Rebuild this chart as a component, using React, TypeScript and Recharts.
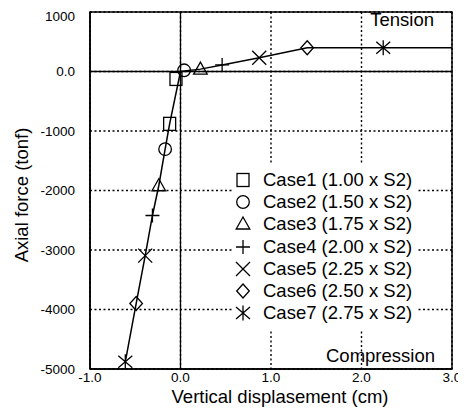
import React from 'react';
import {
  ScatterChart,
  Scatter,
  XAxis,
  YAxis,
  CartesianGrid,
  ReferenceLine,
  ReferenceArea,
  Legend,
} from 'recharts';

const caseLabels = [
  'Case1 (1.00 x S2)',
  'Case2 (1.50 x S2)',
  'Case3 (1.75 x S2)',
  'Case4 (2.00 x S2)',
  'Case5 (2.25 x S2)',
  'Case6 (2.50 x S2)',
  'Case7 (2.75 x S2)',
];
const caseSymbols = ['square', 'circle', 'triangle', 'plus', 'cross', 'diamond', 'asterisk'];

// tension-side results (cm, tonf)
const tensionDisp = [-0.05, 0.04, 0.22, 0.46, 0.87, 1.4, 2.24];
const tensionForce = [-125, 20, 40, 110, 230, 400, 400];
// compression-side results (cm, tonf)
const compressionDisp = [-0.12, -0.17, -0.24, -0.31, -0.39, -0.49, -0.61];
const compressionForce = [-880, -1305, -1920, -2420, -3095, -3900, -4880];

// connecting curve
const curveDisp = [-0.61, -0.49, -0.39, -0.31, -0.24, -0.17, -0.12, 0.0, 0.22, 0.46, 0.87, 1.4, 2.24, 3.0];
const curveForce = [-4880, -3900, -3095, -2420, -1920, -1305, -880, 0, 40, 110, 230, 400, 400, 400];

const xTicks = [-1, 0, 1, 2, 3];
const yTicks = [-5000, -4000, -3000, -2000, -1000, 0, 1000];

const FONT = '"Liberation Sans", Arial, Helvetica, sans-serif';

const curveData = curveDisp.map((x, i) => ({ x, y: curveForce[i] }));
const caseData = caseSymbols.map((_, i) => [
  { x: tensionDisp[i], y: tensionForce[i] },
  { x: compressionDisp[i], y: compressionForce[i] },
]);

function Marker({ kind, cx, cy }: { kind: string; cx: number; cy: number }) {
  const s = { fill: 'none', stroke: '#000', strokeWidth: 1.3 };
  switch (kind) {
    case 'square':
      return <rect x={cx - 6} y={cy - 6.5} width={12} height={13} {...s} />;
    case 'circle':
      return <circle cx={cx} cy={cy} r={6.3} {...s} />;
    case 'triangle':
      return (
        <polygon
          points={`${cx},${cy - 7} ${cx - 6.8},${cy + 5} ${cx + 6.8},${cy + 5}`}
          {...s}
        />
      );
    case 'plus':
      return (
        <path d={`M${cx - 7},${cy}H${cx + 7}M${cx},${cy - 7}V${cy + 7}`} {...s} />
      );
    case 'cross':
      return (
        <path
          d={`M${cx - 7},${cy - 7}L${cx + 7},${cy + 7}M${cx - 7},${cy + 7}L${cx + 7},${cy - 7}`}
          {...s}
        />
      );
    case 'diamond':
      return (
        <polygon
          points={`${cx},${cy - 7} ${cx + 6.3},${cy} ${cx},${cy + 7} ${cx - 6.3},${cy}`}
          {...s}
        />
      );
    case 'asterisk':
      return (
        <path
          d={`M${cx - 7},${cy - 6}L${cx + 7},${cy + 6}M${cx - 7},${cy + 6}L${cx + 7},${cy - 6}M${cx},${cy - 7.5}V${cy + 7.5}`}
          {...s}
        />
      );
    default:
      return <g />;
  }
}

const renderLegend = () => (
  <div
    style={{
      background: '#fff',
      width: 184,
      height: 165,
      paddingTop: 4,
      boxSizing: 'border-box',
      fontFamily: FONT,
      fontSize: 18.5,
      color: '#000',
    }}
  >
    {caseLabels.map((label, i) => (
      <div
        key={label}
        style={{ display: 'flex', alignItems: 'center', height: 22.2 }}
      >
        <svg width={22} height={22} style={{ display: 'block', flex: 'none' }}>
          <Marker kind={caseSymbols[i]} cx={11} cy={11} />
        </svg>
        <span style={{ marginLeft: 9, whiteSpace: 'nowrap', lineHeight: '22px' }}>{label}</span>
      </div>
    ))}
  </div>
);

const tickStyle = { fill: '#000', fontSize: 13.5, fontFamily: FONT };

export default function App() {
  return (
    <ScatterChart
      width={458}
      height={407}
      margin={{ top: 4, right: 14, bottom: 0, left: 0 }}
    >
      <CartesianGrid
        stroke="#000"
        strokeWidth={1.4}
        strokeDasharray="2 2.5"
      />
      <XAxis
        type="number"
        dataKey="x"
        domain={[-1, 3]}
        ticks={xTicks}
        tickFormatter={(v: number) => v.toFixed(1)}
        axisLine={{ stroke: '#000', strokeWidth: 1.5 }}
        tickLine={false}
        tickSize={0}
        tickMargin={3}
        tick={tickStyle}
        height={46}
        allowDataOverflow
        label={{
          content: () => (
            <text
              x={272}
              y={395}
              textAnchor="middle"
              fontFamily={FONT}
              fontSize={18.5}
              fill="#000"
            >
              Vertical displasement (cm)
            </text>
          ),
        }}
      />
      <YAxis
        type="number"
        dataKey="y"
        domain={[-5000, 1000]}
        ticks={yTicks}
        tickFormatter={(v: number) => (v === 0 ? '0.0' : String(v))}
        axisLine={{ stroke: '#000', strokeWidth: 1.5 }}
        tickLine={false}
        tickSize={0}
        tickMargin={15}
        tick={tickStyle}
        width={82}
        allowDataOverflow
        label={{
          content: () => (
            <text
              x={20}
              y={187}
              transform="rotate(-90 20 187)"
              textAnchor="middle"
              fontFamily={FONT}
              fontSize={18.5}
              fill="#000"
            >
              Axial force (tonf)
            </text>
          ),
        }}
      />
      <ReferenceLine x={0} stroke="#000" strokeWidth={1.3} />
      <ReferenceLine y={0} stroke="#000" strokeWidth={1.3} />
      <ReferenceArea
        x1={-1}
        x2={3}
        y1={-5000}
        y2={1000}
        fill="none"
        fillOpacity={0}
        stroke="#000"
        strokeWidth={1.5}
        label={{
          content: () => (
            <g fontFamily={FONT} fontSize={18.5} fill="#000">
              <text x={426} y={18} textAnchor="end">
                Tension
              </text>
              <text x={427} y={354} textAnchor="end">
                Compression
              </text>
            </g>
          ),
        }}
      />
      <Scatter
        data={curveData}
        line={{ stroke: '#000', strokeWidth: 1.5 }}
        shape={() => <g />}
        isAnimationActive={false}
        legendType="none"
      />
      {caseSymbols.map((kind, i) => (
        <Scatter
          key={kind}
          name={caseLabels[i]}
          data={caseData[i]}
          isAnimationActive={false}
          shape={(p: any) => <Marker kind={kind} cx={p.cx} cy={p.cy} />}
        />
      ))}
      <Legend
        layout="vertical"
        align="center"
        verticalAlign="middle"
        content={renderLegend}
        wrapperStyle={{ position: 'absolute', left: 224, top: 157, width: 184, height: 165 }}
      />
    </ScatterChart>
  );
}
